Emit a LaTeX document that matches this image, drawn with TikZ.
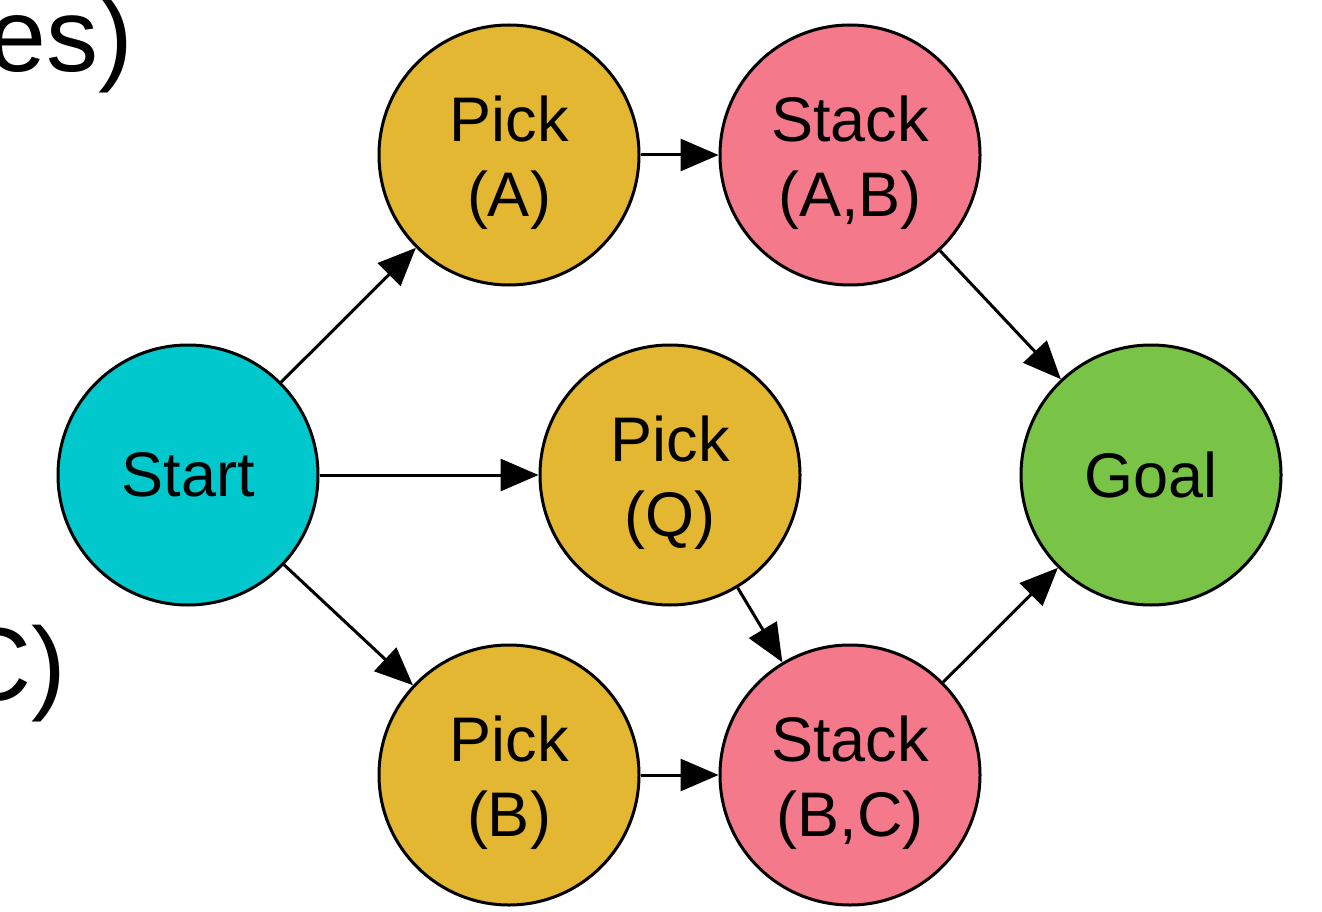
\documentclass[tikz,border=0pt]{standalone}
\usepackage{fontspec}
\setmainfont{Liberation Sans}
\usetikzlibrary{arrows.meta}
\definecolor{cstart}{HTML}{00C8CC}
\definecolor{cpick}{HTML}{E3B731}
\definecolor{cstack}{HTML}{F4798A}
\definecolor{cgoal}{HTML}{79C446}
\newcommand\myupstrut{\rule{0pt}{62pt}}
\tikzset{
  state/.style={circle, draw=black, line width=3pt, minimum size=260pt, inner sep=0pt, align=center, font=\fontsize{63}{75}\selectfont},
  conn/.style={line width=3pt, -{Triangle[length=38pt,width=32pt]}},
  big/.style={font=\fontsize{104}{120}\selectfont, inner sep=0pt}
}
\begin{document}
\begin{tikzpicture}[x=1pt,y=-1pt]
\useasboundingbox (0,0) rectangle (1322,912);
\begin{scope}
\clip (0,0) rectangle (1322,912);
\node[big, anchor=base east] (t1) at (133,72) {es)};
\node[big, anchor=base east] (t2) at (66,700) {C)};
\end{scope}
\node[state, fill=cstart] (start) at (188,475) {Start};
\node[state, fill=cpick] (pa) at (509,155) {\myupstrut Pick\\(A)};
\node[state, fill=cstack] (sab) at (850,155) {\myupstrut Stack\\(A,B)};
\node[state, fill=cpick] (pq) at (670,475) {\myupstrut Pick\\(Q)};
\node[state, fill=cgoal] (goal) at (1151,475) {Goal};
\node[state, fill=cpick] (pb) at (509,775) {\myupstrut Pick\\(B)};
\node[state, fill=cstack] (sbc) at (850,775) {\myupstrut Stack\\(B,C)};
\draw[conn] (start) -- (pa);
\draw[conn] (start) -- (pq);
\draw[conn] (start) -- (pb);
\draw[conn] (pa) -- (sab);
\draw[conn] (sab) -- (goal);
\draw[conn] (pq) -- (sbc);
\draw[conn] (pb) -- (sbc);
\draw[conn] (sbc) -- (goal);
\end{tikzpicture}
\end{document}
